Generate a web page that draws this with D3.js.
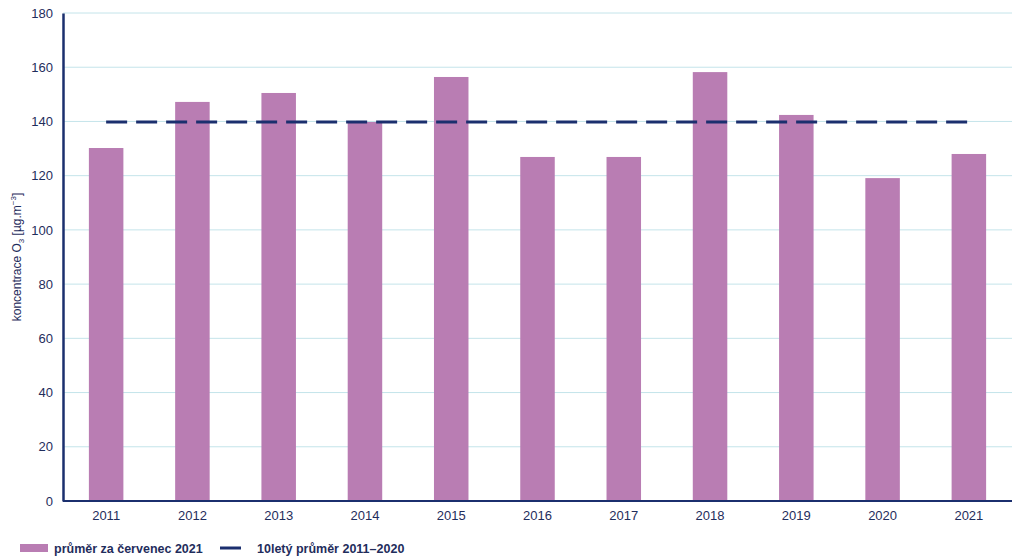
<!DOCTYPE html>
<html>
<head>
<meta charset="utf-8">
<script src="https://cdn.jsdelivr.net/npm/d3@7"></script>
<style>
  body { margin: 0; background: #fff; }
  text { font-family: "Liberation Sans", Arial, sans-serif; fill: #1f2d5c; }
</style>
</head>
<body>
<div id="chart"></div>
<script>
// data
const years = ["2011", "2012", "2013", "2014", "2015", "2016", "2017", "2018", "2019", "2020", "2021"];
const julyMean = [130.2, 147.2, 150.5, 139.8, 156.4, 126.9, 126.9, 158.2, 142.4, 119.1, 128.0];
const tenYearMean = 139.8;
const yTicks = [0, 20, 40, 60, 80, 100, 120, 140, 160, 180];
const legendLabels = ["průměr za červenec 2021", "10letý průměr 2011–2020"];

const width = 1024, height = 558;
const margin = {top: 13, right: 12, bottom: 57, left: 63};
const innerW = width - margin.left - margin.right;
const innerH = height - margin.top - margin.bottom;

const barColor = "#b97db3";
const navy = "#1b2f6e";
const gridColor = "#c4e4ea";

const svg = d3.select("#chart").append("svg")
    .attr("width", width)
    .attr("height", height);

const g = svg.append("g")
    .attr("transform", "translate(" + margin.left + "," + margin.top + ")");

// scales
const x = d3.scaleBand()
    .domain(years)
    .range([0, innerW])
    .paddingInner(0.6)
    .paddingOuter(0.3);

const y = d3.scaleLinear()
    .domain([0, 180])
    .range([innerH, 0]);

// grid
g.append("g")
    .selectAll("line")
    .data(yTicks.filter(d => d > 0))
    .join("line")
    .attr("x1", 0)
    .attr("x2", innerW)
    .attr("y1", d => y(d))
    .attr("y2", d => y(d))
    .attr("stroke", gridColor)
    .attr("stroke-width", 1);

// bars
g.append("g")
    .selectAll("rect")
    .data(years)
    .join("rect")
    .attr("x", d => x(d))
    .attr("width", x.bandwidth())
    .attr("y", (d, i) => y(julyMean[i]))
    .attr("height", (d, i) => innerH - y(julyMean[i]))
    .attr("fill", barColor);

// 10-year mean, dashed
g.append("line")
    .attr("x1", x(years[0]) + x.bandwidth() / 2)
    .attr("x2", x(years[years.length - 1]) + x.bandwidth() / 2)
    .attr("y1", y(tenYearMean))
    .attr("y2", y(tenYearMean))
    .attr("stroke", navy)
    .attr("stroke-width", 3)
    .attr("stroke-dasharray", "21 9");

// axes
const yAxis = d3.axisLeft(y).tickValues(yTicks).tickSize(0).tickPadding(10);
const xAxis = d3.axisBottom(x).tickSize(0).tickPadding(10);

const gy = g.append("g").call(yAxis);
gy.select(".domain").attr("stroke", navy).attr("stroke-width", 2.5);
gy.selectAll("text").attr("font-size", 13).attr("fill", "#1f2d5c")
    .attr("font-family", "Liberation Sans, Arial, sans-serif");

const gx = g.append("g")
    .attr("transform", "translate(0," + innerH + ")")
    .call(xAxis);
gx.select(".domain").attr("d", "M0,0H" + innerW).attr("stroke", navy).attr("stroke-width", 2);
gx.selectAll("text").attr("font-size", 13).attr("fill", "#1f2d5c")
    .attr("font-family", "Liberation Sans, Arial, sans-serif");

// y axis title
const yTitle = svg.append("text")
    .attr("transform", "translate(21," + (margin.top + innerH / 2) + ") rotate(-90)")
    .attr("text-anchor", "middle")
    .attr("font-size", 12);
yTitle.append("tspan").text("koncentrace O");
yTitle.append("tspan").attr("font-size", 8).attr("dy", 3).text("3");
yTitle.append("tspan").attr("dy", -3).text(" [µg.m");
yTitle.append("tspan").attr("font-size", 8).attr("dy", -5).text("−3");
yTitle.append("tspan").attr("dy", 5).text("]");

// legend
const legend = svg.append("g").attr("transform", "translate(0,548)");
legend.append("rect")
    .attr("x", 20).attr("y", -4)
    .attr("width", 28).attr("height", 8)
    .attr("fill", barColor);
legend.append("text")
    .attr("x", 54).attr("y", 4.5)
    .attr("font-size", 12.5).attr("font-weight", "bold")
    .text(legendLabels[0]);
legend.append("line")
    .attr("x1", 220).attr("x2", 241)
    .attr("y1", 0).attr("y2", 0)
    .attr("stroke", navy).attr("stroke-width", 3);
legend.append("text")
    .attr("x", 257).attr("y", 4.5)
    .attr("font-size", 12.5).attr("font-weight", "bold")
    .text(legendLabels[1]);
</script>
</body>
</html>
